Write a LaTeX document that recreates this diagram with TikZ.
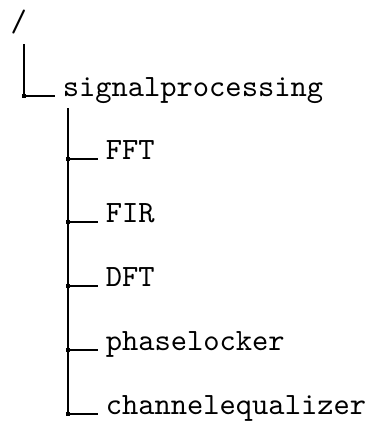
\documentclass[tikz,border=0pt]{standalone}
\usepackage{tikz}
\usetikzlibrary{calc}

\tikzset{
  entry/.style={anchor=base west, inner xsep=2.3pt, inner ysep=0pt, font=\ttfamily},
}

\begin{document}
\begin{tikzpicture}[x=0.3226pt, y=-0.3226pt, line width=0.4pt]
    \useasboundingbox (0,0) rectangle (370,422);
    % root
    \node[entry, inner xsep=0pt] (root) at (10,31) {/};
    \coordinate (rootbar) at (24,44);
    \node[entry] (sp) at (55,96) {signalprocessing};
    \draw (rootbar) |- (sp.base west);
    \fill (rootbar |- sp.base) +(-0.6pt,-0.6pt) rectangle +(0.6pt,0.6pt);

    % children of signalprocessing
    \coordinate (spbar) at (68,108);
    \foreach \n/\txt/\y in {fft/FFT/159, fir/FIR/222, dft/DFT/286, pll/phaselocker/350, eq/channelequalizer/414} {
      \node[entry] (\n) at (98,\y) {\txt};
      \draw (spbar) |- (\n.base west);
      \fill (spbar |- \n.base) +(-0.6pt,-0.6pt) rectangle +(0.6pt,0.6pt);
    }
  \end{tikzpicture}
\end{document}
